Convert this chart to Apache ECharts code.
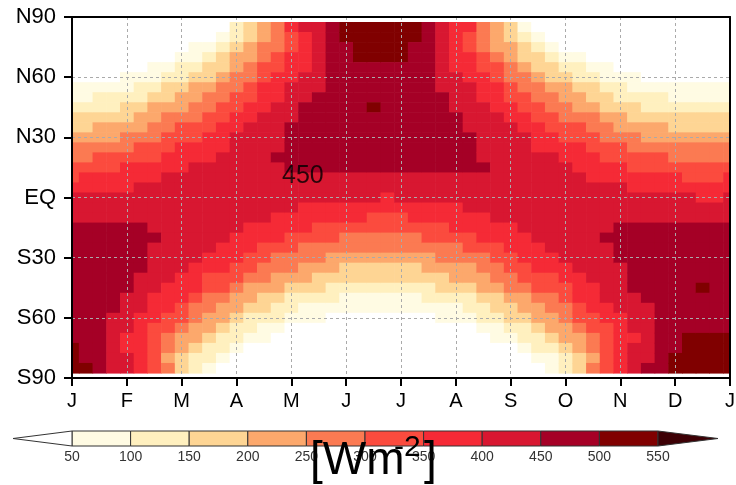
<!DOCTYPE html>
<html>
<head>
<meta charset="utf-8">
<script src="https://cdn.jsdelivr.net/npm/echarts@6/dist/echarts.min.js"></script>
<style>
  html, body { margin: 0; padding: 0; background: #ffffff; }
  #chart { width: 736px; height: 485px; }
</style>
</head>
<body>
<div id="chart"></div>
<script>
// Daily-mean top-of-atmosphere insolation [W m-2].
// One profile per date (roughly weekly), values listed from 85N to 85S in 5-degree steps.
const LATS = [85, 80, 75, 70, 65, 60, 55, 50, 45, 40, 35, 30, 25, 20, 15, 10, 5, 0,
  -5, -10, -15, -20, -25, -30, -35, -40, -45, -50, -55, -60, -65, -70, -75, -80, -85];

const JAN01 = [0,0,0,0,4,26,55,87,120,155,189,224,257,289,320,349,376,400,
  423,442,458,472,483,491,496,498,498,496,492,489,488,497,516,526,532];
const JAN08 = [0,0,0,0,6,29,58,90,124,159,193,227,261,293,323,351,378,402,
  423,442,458,471,482,489,493,495,494,491,486,482,480,492,498,499,506];
const JAN16 = [0,0,0,0,12,38,68,101,135,169,204,237,270,301,330,358,383,406,
  426,443,458,469,478,483,486,485,483,477,471,463,458,462,475,484,490];
const JAN23 = [0,0,0,0,19,47,78,112,146,181,215,248,280,310,338,365,388,410,
  428,444,457,467,473,477,478,475,470,463,454,444,435,431,443,446,448];
const FEB01 = [0,0,0,9,33,63,96,130,164,199,232,264,295,323,350,374,396,415,
  432,445,455,462,466,467,465,460,452,441,429,415,401,390,392,400,405];
const FEB08 = [0,0,0,16,45,77,111,145,180,213,246,277,307,334,359,382,402,419,
  434,445,453,458,460,459,454,447,436,423,408,391,374,357,351,358,362];
const FEB15 = [0,0,9,33,64,97,132,166,200,233,264,294,322,348,371,391,409,424,
  436,444,448,451,449,446,439,429,416,399,381,361,340,319,303,300,304];
const FEB22 = [0,0,17,48,81,116,151,185,219,251,281,310,336,360,381,400,415,428,
  437,443,446,446,442,435,425,412,397,378,357,334,309,284,260,248,251];
const MAR01 = [0,7,38,71,106,141,175,209,241,272,301,327,351,373,392,408,421,430,
  437,440,440,437,431,421,408,393,374,353,329,304,276,248,220,197,188];
const MAR08 = [0,26,60,96,132,168,202,235,266,295,322,346,368,387,403,417,427,433,
  437,437,434,428,418,406,390,371,350,326,299,271,240,208,176,143,119];
const MAR16 = [17,48,93,128,164,198,231,262,291,318,343,365,384,399,413,424,431,434,
  435,432,426,416,404,388,370,348,324,298,269,239,206,173,137,100,65];
const MAR23 = [47,85,122,158,192,226,257,287,314,339,362,382,398,412,423,430,434,435,
  433,427,418,406,390,372,351,327,301,272,242,209,175,140,103,66,28];
const APR01 = [104,133,168,201,233,264,293,320,344,366,385,401,415,425,432,436,436,433,
  427,418,405,390,371,350,326,300,271,241,208,175,140,104,69,32,2];
const APR08 = [166,176,204,234,264,293,320,344,367,386,403,417,427,435,439,440,438,432,
  423,411,396,378,357,333,307,279,249,217,183,149,113,78,43,12,0];
const APR16 = [234,232,251,275,301,326,350,372,391,407,421,431,439,443,444,442,437,428,
  416,401,384,363,340,314,286,256,225,192,158,123,88,55,22,0,0];
const APR23 = [293,289,291,311,333,355,376,395,412,425,436,444,449,451,449,444,436,425,
  411,393,373,350,325,298,268,237,204,170,136,101,67,35,8,0,0];
const MAY01 = [350,346,340,351,367,386,403,419,432,443,451,456,458,457,452,445,434,420,
  403,384,361,337,310,280,250,217,184,149,115,81,49,20,4,0,0];
const MAY08 = [405,394,386,384,396,411,425,439,452,458,463,466,465,462,455,445,432,416,
  397,376,352,325,297,266,234,201,167,132,98,65,34,9,0,0,0];
const MAY16 = [441,436,427,418,424,435,446,456,465,471,474,474,471,465,456,444,429,411,
  391,368,342,314,284,253,220,186,152,118,84,52,24,4,0,0,0];
const MAY23 = [477,471,462,456,453,455,464,472,478,482,483,481,476,468,457,444,427,408,
  385,361,334,305,274,242,208,174,139,105,72,41,15,0,0,0,0];
const JUN01 = [510,504,494,481,472,475,481,486,490,491,491,487,480,471,458,443,424,403,
  380,354,326,296,264,231,197,162,128,94,62,32,8,0,0,0,0];
const JUN08 = [528,522,512,501,484,485,489,493,496,497,495,490,482,472,458,442,423,401,
  377,350,321,291,259,225,191,157,122,88,56,28,5,0,0,0,0];
const JUN16 = [538,532,522,508,493,492,496,499,501,499,497,492,484,473,458,442,422,400,
  375,348,319,288,255,222,187,153,118,84,53,24,4,0,0,0,0];
const JUN23 = [541,534,524,510,495,494,497,499,499,499,498,492,484,473,458,441,422,399,
  374,347,318,287,255,221,187,152,117,84,52,24,3,0,0,0,0];
const JUL01 = [534,528,518,504,490,490,493,497,499,499,496,491,483,472,458,442,422,400,
  376,349,320,289,257,223,189,154,120,86,54,25,4,0,0,0,0];
const JUL08 = [519,513,499,490,478,481,485,490,493,494,493,488,481,471,458,442,424,402,
  378,352,323,293,261,228,194,159,125,91,59,29,6,0,0,0,0];
const JUL16 = [479,473,464,452,450,457,465,473,478,482,483,481,476,468,458,444,427,407,
  385,360,333,304,273,241,207,173,139,104,71,41,14,0,0,0,0];
const JUL23 = [446,438,430,420,426,436,447,457,465,471,474,475,472,466,457,445,430,411,
  391,367,341,313,283,252,219,185,151,116,83,50,22,2,0,0,0];
const AUG01 = [396,391,383,383,395,410,424,437,448,457,463,465,465,461,455,445,432,416,
  397,376,352,326,297,267,235,202,168,133,99,66,35,10,0,0,0];
const AUG08 = [353,349,342,351,368,386,404,419,433,444,448,457,459,457,453,445,434,420,
  403,384,361,336,309,280,249,216,183,148,114,80,47,18,0,0,0];
const AUG16 = [293,289,294,312,334,356,376,395,412,425,436,444,449,449,451,444,436,425,
  410,393,373,350,325,297,268,237,204,170,136,101,67,36,10,0,0];
const AUG23 = [234,232,248,274,300,326,350,372,391,407,421,432,440,444,445,443,437,429,
  417,402,384,363,340,314,286,256,224,191,157,122,87,53,22,0,0];
const SEP01 = [163,177,203,234,263,292,319,343,365,385,402,416,426,434,438,439,437,432,
  423,411,396,378,357,334,308,280,250,218,185,150,115,80,45,13,0];
const SEP08 = [95,128,161,195,228,260,289,316,341,364,383,400,414,424,432,436,437,434,
  428,419,407,392,374,352,329,302,274,243,211,177,142,106,69,34,3];
const SEP16 = [49,86,123,159,194,227,258,288,315,340,362,382,399,413,423,430,434,435,
  432,427,417,405,390,371,350,326,300,271,241,208,174,139,102,65,27];
const SEP23 = [19,48,92,129,164,199,232,263,292,319,344,366,385,401,415,425,431,435,
  435,432,426,416,403,388,369,347,323,296,267,236,203,169,133,98,62];
const OCT01 = [1,29,47,95,136,171,205,238,268,297,324,348,369,388,404,417,427,433,
  436,436,433,426,416,404,388,369,347,323,296,268,237,205,173,139,112];
const OCT08 = [0,9,38,72,108,143,178,211,244,274,303,329,353,375,393,409,422,431,
  438,441,440,437,430,420,407,390,372,350,326,300,271,242,212,187,180];
const OCT16 = [0,0,18,49,82,116,151,185,219,251,281,309,336,359,381,399,415,427,
  437,443,446,446,442,435,425,413,397,378,357,335,310,285,262,248,250];
const OCT23 = [0,0,5,30,62,96,130,165,199,232,264,294,322,347,371,391,409,424,
  436,445,447,451,449,445,440,430,417,401,382,362,341,319,301,303,306];
const NOV01 = [0,0,0,16,44,76,110,144,178,212,245,276,305,333,358,381,401,419,
  433,445,453,458,460,459,449,448,438,425,410,394,377,361,355,362,366];
const NOV08 = [0,0,0,5,29,59,92,126,160,195,228,260,291,321,348,372,395,414,
  431,445,456,464,468,469,468,463,456,446,434,421,408,397,404,411,416];
const NOV16 = [0,0,0,1,19,47,79,112,146,181,215,248,280,310,338,365,388,410,
  428,444,457,467,473,477,478,475,470,463,449,444,435,431,443,449,452];
const NOV23 = [0,0,0,0,12,37,68,101,135,170,204,238,270,301,331,358,383,406,
  426,443,458,469,478,483,486,486,483,478,471,463,457,462,475,485,490];
const DEC01 = [0,0,0,0,7,30,59,92,126,160,195,229,262,294,324,352,379,403,
  424,442,458,471,481,488,492,493,492,489,484,479,477,487,499,511,517];
const DEC08 = [0,0,0,0,4,26,55,87,120,155,190,224,257,290,320,349,376,400,
  423,442,458,472,483,491,496,498,498,496,492,488,488,502,516,526,532];
const DEC16 = [0,0,0,0,3,24,52,84,117,152,187,221,255,287,318,347,374,399,
  422,441,458,473,484,492,498,499,501,499,497,494,495,510,524,534,541];
const DEC23 = [0,0,0,0,3,24,52,84,117,152,187,221,255,287,318,347,374,399,
  422,441,458,473,484,492,498,499,499,499,497,494,495,510,524,534,541];
const JAN01_NEXT = [0,0,0,0,6,28,57,90,123,158,193,227,260,292,322,351,378,402,
  423,442,458,472,482,489,494,495,495,492,487,483,481,502,507,517,523];

const MONTH_TICKS = ['J', 'F', 'M', 'A', 'M', 'J', 'J', 'A', 'S', 'O', 'N', 'D', 'J'];
const LAT_TICKS = ['S90', 'S60', 'S30', 'EQ', 'N30', 'N60', 'N90'];
const LEVELS = [50, 100, 150, 200, 250, 300, 350, 400, 450, 500, 550];
const COLORS = ['#ffffff', '#fffbe3', '#fff0bf', '#fed594', '#fca86c', '#fb7a52',
  '#fb4b3e', '#f52a36', '#d81731', '#a50026', '#800000', '#3d0005'];
const LABELLED_LEVEL = 450;

// Profiles in time order, a quarter month apart, from 1 Jan to the next 1 Jan
const PROFILES = [
  JAN01, JAN08, JAN16, JAN23, FEB01, FEB08, FEB15, FEB22,
  MAR01, MAR08, MAR16, MAR23, APR01, APR08, APR16, APR23,
  MAY01, MAY08, MAY16, MAY23, JUN01, JUN08, JUN16, JUN23,
  JUL01, JUL08, JUL16, JUL23, AUG01, AUG08, AUG16, AUG23,
  SEP01, SEP08, SEP16, SEP23, OCT01, OCT08, OCT16, OCT23,
  NOV01, NOV08, NOV16, NOV23, DEC01, DEC08, DEC16, DEC23, JAN01_NEXT
];

const STEP = 0.25;      // months between profiles
const HALF_ROW = 2.5;   // half of the latitude spacing

// Each cell: [monthStart, monthEnd, latTop, latBottom, value]
const cells = [];
PROFILES.forEach((col, c) => {
  const m = c * STEP;
  const m0 = Math.max(0, m - STEP / 2);
  const m1 = Math.min(12, m + STEP / 2);
  col.forEach((v, r) => {
    cells.push([m0, m1, LATS[r] + HALF_ROW, LATS[r] - HALF_ROW, v]);
  });
});

// Piecewise colour classes from the contour levels
const pieces = [{ lt: LEVELS[0], color: COLORS[0] }];
for (let i = 0; i < LEVELS.length - 1; i++) {
  pieces.push({ gte: LEVELS[i], lt: LEVELS[i + 1], color: COLORS[i + 1] });
}
pieces.push({ gte: LEVELS[LEVELS.length - 1], color: COLORS[COLORS.length - 1] });

// Colour bar beneath the plot
const FONT = '"Liberation Sans", Arial, sans-serif';
const CB = { left: 72, right: 658, top: 431, height: 15, leftTip: 13, rightTip: 718, labelTop: 450 };
const cbStep = (CB.right - CB.left) / (LEVELS.length - 1);
const graphics = [];
for (let i = 0; i < LEVELS.length - 1; i++) {
  graphics.push({
    type: 'rect', z: 10,
    shape: { x: CB.left + i * cbStep, y: CB.top, width: cbStep, height: CB.height },
    style: { fill: COLORS[i + 1], stroke: '#333', lineWidth: 1 }
  });
}
graphics.push({
  type: 'polygon', z: 10,
  shape: { points: [[CB.left, CB.top], [CB.left, CB.top + CB.height], [CB.leftTip, CB.top + CB.height / 2]] },
  style: { fill: COLORS[0], stroke: '#333', lineWidth: 1 }
});
graphics.push({
  type: 'polygon', z: 10,
  shape: { points: [[CB.right, CB.top], [CB.right, CB.top + CB.height], [CB.rightTip, CB.top + CB.height / 2]] },
  style: { fill: COLORS[COLORS.length - 1], stroke: '#333', lineWidth: 1 }
});
LEVELS.forEach((lv, i) => {
  graphics.push({
    type: 'text', z: 11, x: CB.left + i * cbStep, y: CB.labelTop,
    style: { text: String(lv), fill: '#333', font: '14px ' + FONT,
      textAlign: 'center', align: 'center', textVerticalAlign: 'top', verticalAlign: 'top' }
  });
});
// Unit label
graphics.push({
  type: 'text', z: 12, x: 310, y: 461,
  style: { text: '[Wm', fill: '#000', font: '46px ' + FONT,
    textAlign: 'left', align: 'left', textVerticalAlign: 'middle', verticalAlign: 'middle' }
});
graphics.push({
  type: 'text', z: 12, x: 394, y: 448,
  style: { text: '-2', fill: '#000', font: '30px ' + FONT,
    textAlign: 'left', align: 'left', textVerticalAlign: 'middle', verticalAlign: 'middle' }
});
graphics.push({
  type: 'text', z: 12, x: 424, y: 461,
  style: { text: ']', fill: '#000', font: '46px ' + FONT,
    textAlign: 'left', align: 'left', textVerticalAlign: 'middle', verticalAlign: 'middle' }
});

const gridLine = { show: true, lineStyle: { color: '#aaaaaa', width: 1, type: [3, 3] } };
const frameLine = { show: true, onZero: false, lineStyle: { color: '#000', width: 2 } };

const chart = echarts.init(document.getElementById('chart'), null, { renderer: 'canvas' });
chart.setOption({
  animation: false,
  backgroundColor: '#ffffff',
  grid: { left: 72, right: 6, top: 17, bottom: 107, containLabel: false, outerBoundsMode: 'none' },
  xAxis: [
    {
      type: 'value', min: 0, max: 12, interval: 1, position: 'bottom', z: 5,
      axisLine: frameLine,
      axisTick: { show: true, length: 8, lineStyle: { color: '#000', width: 2 } },
      axisLabel: { show: true, showMinLabel: true, showMaxLabel: true, hideOverlap: false,
        formatter: (v) => MONTH_TICKS[Math.round(v)], color: '#000', fontSize: 20,
        fontFamily: FONT, margin: 13 },
      splitLine: gridLine
    },
    {
      type: 'value', min: 0, max: 12, position: 'top', z: 5,
      axisLine: frameLine, axisTick: { show: false }, axisLabel: { show: false },
      splitLine: { show: false }
    }
  ],
  yAxis: [
    {
      type: 'value', min: -90, max: 90, interval: 30, position: 'left', z: 5,
      axisLine: frameLine,
      axisTick: { show: true, length: 8, lineStyle: { color: '#000', width: 2 } },
      axisLabel: { show: true, showMinLabel: true, showMaxLabel: true, hideOverlap: false,
        formatter: (v) => LAT_TICKS[Math.round((v + 90) / 30)], color: '#000', fontSize: 22,
        fontFamily: FONT, margin: 16 },
      splitLine: gridLine
    },
    {
      type: 'value', min: -90, max: 90, position: 'right', z: 5,
      axisLine: frameLine, axisTick: { show: false }, axisLabel: { show: false },
      splitLine: { show: false }
    }
  ],
  visualMap: {
    type: 'piecewise', show: false, dimension: 4, seriesIndex: 0, pieces: pieces
  },
  series: [
    {
      type: 'custom',
      xAxisIndex: 0, yAxisIndex: 0,
      clip: true,
      z: 2,
      dimensions: ['m0', 'm1', 'lat0', 'lat1', 'value'],
      encode: { x: [0, 1], y: [2, 3] },
      data: cells,
      renderItem: function (params, api) {
        const a = api.coord([api.value(0), api.value(2)]);
        const b = api.coord([api.value(1), api.value(3)]);
        return {
          type: 'rect',
          shape: { x: a[0], y: a[1], width: b[0] - a[0] + 0.6, height: b[1] - a[1] + 0.6 },
          style: { fill: api.visual('color') }
        };
      }
    },
    {
      // contour label on the 450 line
      type: 'scatter',
      xAxisIndex: 0, yAxisIndex: 0,
      z: 6,
      symbol: 'circle',
      symbolSize: 0,
      itemStyle: { color: 'rgba(0,0,0,0)' },
      data: [[4.21, 10.7]],
      label: {
        show: true, position: 'inside', formatter: () => String(LABELLED_LEVEL),
        color: '#000', fontSize: 25, fontFamily: FONT
      },
      silent: true
    }
  ],
  graphic: { elements: graphics }
});
</script>
</body>
</html>
